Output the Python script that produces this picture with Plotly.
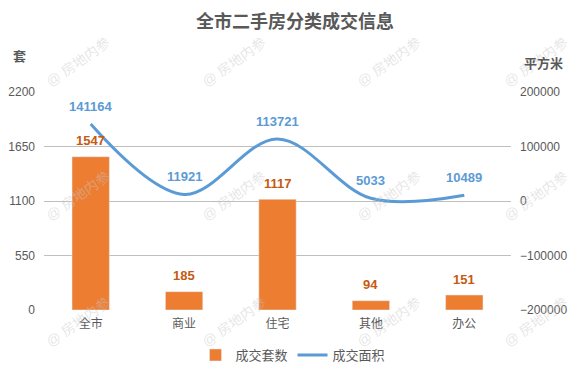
import plotly.graph_objects as go

categories = ["全市", "商业", "住宅", "其他", "办公"]
units_sold = [1547, 185, 1117, 94, 151]
area_sold = [141164, 11921, 113721, 5033, 10489]
left_ticks = [0, 550, 1100, 1650, 2200]
right_ticks = [-200000, -100000, 0, 100000, 200000]
right_tick_labels = ["−200000", "−100000", "0", "100000", "200000"]

FONT = "Liberation Sans, Arial, Noto Sans CJK SC, sans-serif"
GRAY = "#595959"
ORANGE = "#ED7D31"
BLUE = "#5B9BD5"

L, R, T, B = 44, 511, 92, 310
PW, PH = R - L, B - T


def px(x):
    return (x - L) / PW


def py(y):
    return (B - y) / PH


fig = go.Figure()
fig.add_trace(go.Bar(
    x=categories, y=units_sold, name="成交套数",
    marker_color=ORANGE, width=0.4, yaxis="y",
))
fig.add_trace(go.Scatter(
    x=categories, y=area_sold, name="成交面积", mode="lines",
    line=dict(color=BLUE, width=3, shape="spline", smoothing=1.0),
    yaxis="y2",
))

annotations = []
for c, v in zip(categories, units_sold):
    annotations.append(dict(
        x=c, y=v, xref="x", yref="y", text=f"<b>{v}</b>", showarrow=False,
        yshift=16, font=dict(family=FONT, size=13, color="#C55A11"),
    ))
for c, v in zip(categories, area_sold):
    annotations.append(dict(
        x=c, y=v, xref="x", yref="y2", text=f"<b>{v}</b>", showarrow=False,
        yshift=18, font=dict(family=FONT, size=13, color=BLUE),
    ))

# watermarks
wm_cols = [78, 234, 389, 536]
wm_rows = [62, 196, 322]
for wy in wm_rows:
    for wx in wm_cols:
        annotations.append(dict(
            x=px(wx), y=py(wy), xref="paper", yref="paper",
            xanchor="center", yanchor="middle",
            text="@ 房地内参", showarrow=False, textangle=-35,
            font=dict(family=FONT, size=14, color="rgba(200,200,200,0.45)"),
        ))

# axis titles
annotations.append(dict(x=px(19), y=py(57), xref="paper", yref="paper", text="<b>套</b>",
                        xanchor="center", yanchor="middle",
                        showarrow=False, font=dict(family=FONT, size=13, color=GRAY)))
annotations.append(dict(x=px(543), y=py(63), xref="paper", yref="paper",
                        xanchor="center", yanchor="middle",
                        text="<b>平方米</b>", showarrow=False,
                        font=dict(family=FONT, size=13, color=GRAY)))

fig.update_layout(
    width=577, height=392,
    margin=dict(l=L, r=577 - R, t=T, b=392 - B, autoexpand=False),
    paper_bgcolor="white", plot_bgcolor="white",
    font=dict(family=FONT, color=GRAY, size=12),
    title=dict(text="<b>全市二手房分类成交信息</b>", x=295 / 577, xanchor="center",
               y=1 - 22 / 392, yanchor="middle", xref="container", yref="container",
               font=dict(size=18, color=GRAY, family=FONT)),
    xaxis=dict(showgrid=False, showline=False, ticks="", automargin=False,
               tickfont=dict(size=12, color=GRAY), ticklabelstandoff=5),
    yaxis=dict(range=[0, 2200], tickvals=left_ticks, showgrid=True, gridcolor="#BFBFBF",
               gridwidth=1, zeroline=False, showline=False, ticks="", automargin=False,
               tickfont=dict(size=12, color=GRAY), ticklabelstandoff=8),
    yaxis2=dict(range=[-200000, 200000], tickvals=right_ticks, ticktext=right_tick_labels,
                overlaying="y", side="right", automargin=False,
                showgrid=False, zeroline=False, showline=False, ticks="",
                tickfont=dict(size=12, color=GRAY), ticklabelstandoff=8),
    legend=dict(orientation="h", x=px(293), xanchor="center", y=py(340), yanchor="top",
                font=dict(size=13, color=GRAY)),
    annotations=annotations,
    showlegend=True,
)

fig.write_html("out.html", config={"displayModeBar": False},
               post_script="document.body.style.margin='0';")
